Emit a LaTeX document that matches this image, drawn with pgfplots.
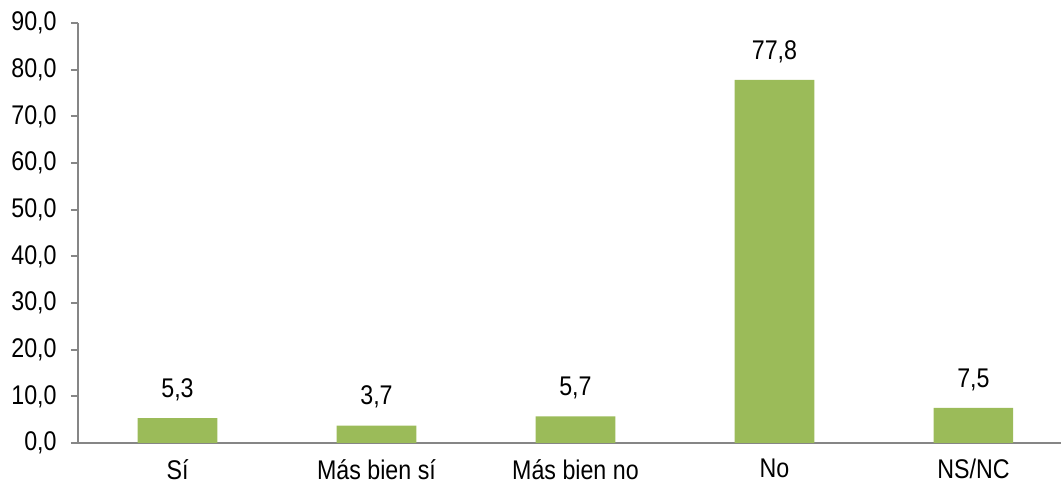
\documentclass[border=0pt]{standalone}
\usepackage{pgfplots}
\pgfplotsset{compat=1.18}
\usepackage{fontspec}
\setmainfont{Liberation Sans}[FakeStretch=0.86]
\definecolor{bargreen}{HTML}{9BBB59}
\definecolor{axgray}{HTML}{868686}
\newcommand\lblfont{\fontsize{13.5pt}{15pt}\selectfont}
\begin{document}
\lblfont
\begin{tikzpicture}
\begin{axis}[
  scale only axis,
  width=491.5pt, height=210pt,
  xmin=-0.5, xmax=4.44,
  ymin=0, ymax=90,
  axis x line=bottom, axis y line=left,
  axis line style={axgray, line width=0.9pt, -},
  ytick={0,10,...,90},
  xtick={0,1,2,3,4},
  xticklabels={Sí, Más bien sí, Más bien no, No, NS/NC},
  extra x ticks={-0.5,0.5,1.5,2.5,3.5},
  extra x tick labels={},
  extra x tick style={major tick length=6pt, tick style={axgray, line width=0.9pt}, tick align=outside},
  major x tick style={draw=none},
  major tick length=3.5pt,
  y tick style={draw=axgray, line width=0.9pt},
  tick align=outside,
  /pgf/number format/fixed,
  /pgf/number format/fixed zerofill,
  /pgf/number format/precision=1,
  /pgf/number format/use comma,
  /pgf/number format/assume math mode=true,
  yticklabel style={xshift=-2.5pt, font=\lblfont},
  xticklabel style={inner sep=0pt, yshift=-4.5pt, font=\lblfont},
  ybar, bar width=0.4, bar shift=0pt,
  nodes near coords,
  every node near coord/.append style={black, yshift=4pt, font=\lblfont},
  clip=false,
]
\addplot[fill=bargreen, draw=none] coordinates {(0,5.3) (1,3.7) (2,5.7) (3,77.8) (4,7.5)};
\end{axis}
\pgfresetboundingbox
\path[use as bounding box] ([shift={(-39pt,-22.5pt)}]current axis.south west) rectangle ([shift={(0pt,11.5pt)}]current axis.north east);
\end{tikzpicture}
\end{document}
